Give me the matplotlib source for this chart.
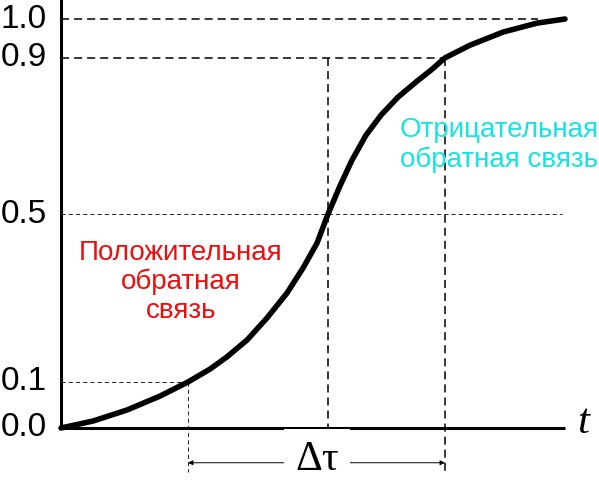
import numpy as np
import matplotlib
matplotlib.use("Agg")
import matplotlib.pyplot as plt

# curve: t in arbitrary units, y as drawn height (0 .. 1)
t_curve = [0.0, 0.32, 0.66, 0.99, 1.27, 1.49, 1.66, 1.86, 2.06, 2.26, 2.42,
           2.56, 2.67, 2.79, 2.91, 3.05, 3.20, 3.37, 3.56, 3.70, 3.84, 4.09,
           4.42, 4.76, 5.04]
y_curve = [0.0, 0.017, 0.044, 0.078, 0.1125, 0.144, 0.174, 0.215, 0.269,
           0.330, 0.391, 0.452, 0.523, 0.592, 0.655, 0.716, 0.765, 0.809,
           0.848, 0.875, 0.905, 0.936, 0.968, 0.990, 1.0]

# levels on the y axis and the heights they are drawn at (schematic, not to scale)
level_labels = ["0.0", "0.1", "0.5", "0.9", "1.0"]
level_heights = [0.0, 0.1125, 0.523, 0.905, 1.0]

t_low, t_mid, t_high = 1.27, 2.67, 3.84   # crossings of 0.1, 0.5, 0.9
t_end = 5.04

plt.rcParams['lines.scale_dashes'] = False
sans = ['Liberation Sans', 'DejaVu Sans']
serif = ['Liberation Serif', 'DejaVu Serif']

fig = plt.figure(figsize=(5.99, 4.87), dpi=100)
ax = fig.add_axes([0, 0, 1, 1])
ax.set_xlim(-0.61, 5.38)
ax.set_ylim(-0.1443, 1.0465)
ax.axis('off')

thick = dict(color='black', lw=1.1, dashes=(5.8, 3.6))
thin = dict(color='black', lw=0.6, dashes=(3.0, 2.2))

# guide lines
ax.plot([0, 4.77], [level_heights[4]] * 2, **thick)
ax.plot([0, t_high], [level_heights[3]] * 2, **thick)
ax.plot([0, 5.01], [level_heights[2]] * 2, **thin)
ax.plot([0, t_low], [level_heights[1]] * 2, **thin)
ax.plot([t_mid] * 2, [level_heights[3], 0], **thick)
ax.plot([t_high] * 2, [level_heights[3], -0.108], **thick)
ax.plot([t_low] * 2, [level_heights[1], -0.108], **thin)

# axes
ax.plot([0, 0], [0, 1.05], color='black', lw=2.2, solid_capstyle='butt')
ax.plot([0, t_end], [0, 0], color='black', lw=2.2, solid_capstyle='butt')

ax.plot(t_curve, y_curve, color='black', lw=4.0, solid_capstyle='round',
        solid_joinstyle='round', zorder=5)

for lab, h in zip(level_labels, level_heights):
    ax.text(-0.14, h, lab, ha='right', va='center', fontsize=24, family=sans)

ax.text(5.22, 0.012, "t", ha='center', va='center', fontsize=31,
        style='italic', family=serif)

# delta tau
ax.annotate('', xy=(t_high, -0.085), xytext=(t_low, -0.085),
            arrowprops=dict(arrowstyle='<|-|>', lw=0.7, color='black',
                            mutation_scale=7, shrinkA=0, shrinkB=0))
ax.text(2.56, -0.078, "Δτ", ha='center', va='center', fontsize=30, family=serif,
        bbox=dict(facecolor='white', edgecolor='none', pad=8))

ax.text(1.20, 0.357, "Положительная\nобратная\nсвязь", ha='center', va='center',
        color='#f20d0d', fontsize=20, family=sans, linespacing=1.15)
ax.text(4.38, 0.692, "Отрицательная\nобратная связь", ha='center', va='center',
        color='#14e4e4', fontsize=20, family=sans, linespacing=1.15)

fig.savefig("out.png", dpi=100)
